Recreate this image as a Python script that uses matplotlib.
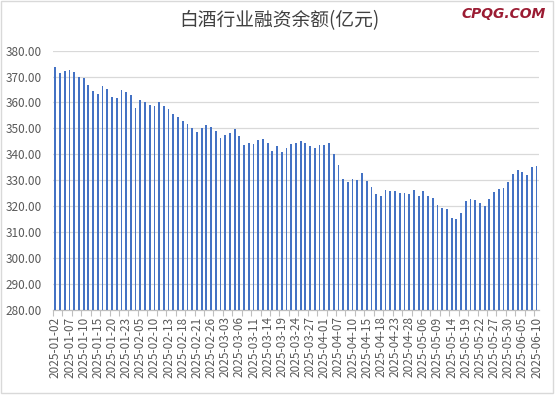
import numpy as np
import matplotlib.pyplot as plt
from matplotlib.patches import Rectangle

plt.rcParams['font.family'] = ['Noto Sans CJK SC', 'DejaVu Sans']

# trading days, 2025-01-02 .. 2025-06-10
jan = [2, 3, 6, 7, 8, 9, 10, 13, 14, 15, 16, 17, 20, 21, 22, 23, 24, 27]
feb = [5, 6, 7, 10, 11, 12, 13, 14, 17, 18, 19, 20, 21, 24, 25, 26, 27, 28]
mar = [3, 4, 5, 6, 7, 10, 11, 12, 13, 14, 17, 18, 19, 20, 21, 24, 25, 26, 27, 28, 31]
apr = [1, 2, 3, 7, 8, 9, 10, 11, 14, 15, 16, 17, 18, 21, 22, 23, 24, 25, 28, 29, 30]
may = [6, 7, 8, 9, 12, 13, 14, 15, 16, 19, 20, 21, 22, 23, 26, 27, 28, 29, 30]
jun = [3, 4, 5, 6, 9, 10]
dates = []
for m, days in zip(range(1, 7), [jan, feb, mar, apr, may, jun]):
    dates += ["2025-%02d-%02d" % (m, d) for d in days]

# 融资余额(亿元)
balance = [
    373.6, 371.3, 372.1, 372.4, 371.7, 369.7, 369.4, 366.7, 364.4, 363.3,
    366.3, 365.1, 362.1, 361.7, 364.7, 364.0, 362.8, 357.8, 360.9, 360.1,
    359.0, 358.6, 360.1, 358.6, 357.4, 355.5, 354.4, 352.8, 351.7, 350.1,
    348.6, 350.1, 351.3, 350.5, 349.0, 346.3, 347.4, 348.2, 349.7, 347.1,
    343.6, 344.4, 344.0, 345.5, 345.9, 344.4, 341.3, 343.2, 340.9, 342.4,
    344.0, 344.4, 345.1, 344.4, 343.2, 342.4, 343.6, 343.6, 344.4, 340.1,
    335.9, 330.5, 329.4, 330.5, 330.1, 332.8, 329.7, 327.4, 324.7, 324.0,
    326.3, 325.9, 325.9, 325.1, 325.1, 324.7, 326.3, 324.0, 325.9, 324.0,
    323.2, 320.5, 319.4, 319.0, 315.5, 315.1, 317.4, 322.1, 322.8, 322.4,
    321.3, 320.1, 322.8, 325.5, 326.7, 327.1, 329.4, 332.4, 334.0, 333.2,
    332.1, 335.1, 335.5,
]

fig = plt.figure(figsize=(5.55, 3.96), dpi=100)
ax = fig.add_axes([0.0955, 0.2184, 0.8755, 0.6536])

x = np.arange(len(dates))
ax.bar(x, balance, width=0.38, color="#4472C4", zorder=3)

ax.set_xlim(-0.5, len(dates) - 0.5)
ax.set_ylim(280, 380)
ax.set_yticks(np.arange(280, 381, 10))
ax.set_yticklabels(["%.2f" % v for v in np.arange(280, 381, 10)])
ax.yaxis.grid(True, color="#d9d9d9", linewidth=0.9, zorder=0)

ax.set_xticks(x[::3])
ax.set_xticklabels(dates[::3], rotation=90)
ax.set_xticks(np.arange(-0.5, len(dates), 2), minor=True)
ax.tick_params(axis="x", which="major", length=0, pad=5, labelsize=8.5, labelcolor="#595959")
ax.tick_params(axis="x", which="minor", length=4, color="#bfbfbf", width=0.8)
ax.tick_params(axis="y", length=0, pad=8, labelsize=8.5, labelcolor="#595959")

for s in ["top", "right", "left"]:
    ax.spines[s].set_visible(False)
ax.spines["bottom"].set_color("#bfbfbf")
ax.spines["bottom"].set_linewidth(0.9)

fig.text(0.503, 0.947, "白酒行业融资余额(亿元)", ha="center", va="center",
         fontsize=13.5, color="#404040")
fig.text(0.907, 0.965, "CPQG.COM", ha="center", va="center", fontsize=10,
         family="DejaVu Sans", style="italic", weight="bold", color="#9b1c33")

fig.patches.append(Rectangle((0.001, 0.008), 0.995, 0.99, transform=fig.transFigure,
                             fill=False, edgecolor="#d9d9d9", linewidth=1))

fig.savefig("out.png", dpi=100)
